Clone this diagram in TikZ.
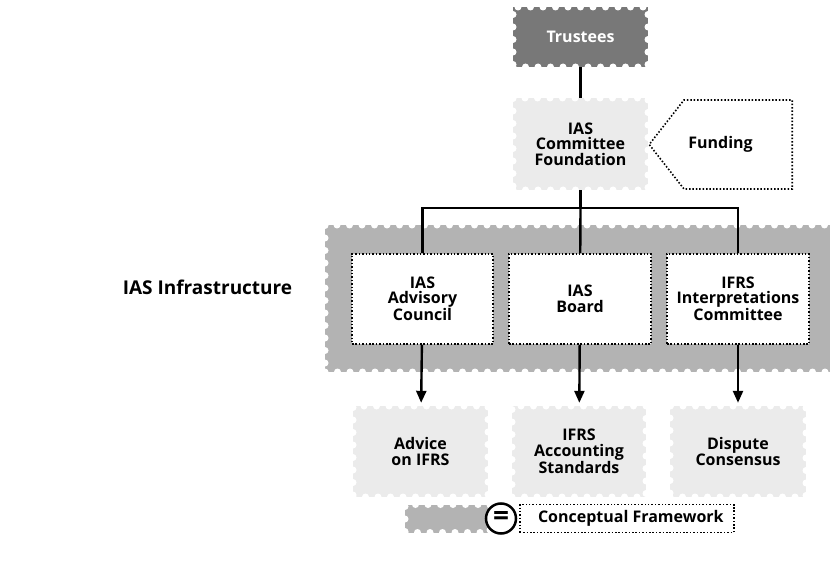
\documentclass[tikz,border=0pt]{standalone}
\usepackage{fontspec}
\setmainfont{Open Sans}
\usepackage{tikz}
\usetikzlibrary{positioning,calc}
\usetikzlibrary{arrows.meta,shapes.symbols}
\definecolor{StampDark}{RGB}{120,120,120}
\definecolor{StampMid}{RGB}{179,179,179}
\definecolor{StampLight}{RGB}{235,235,235}
\tikzset{
  perf/.style={postaction={draw=white,line width=7pt,line cap=round,dash pattern=on 0pt off 12.5pt}},
  stamp/.style={rectangle,fill=#1,perf,inner sep=0pt,align=center,
    font=\fontsize{16}{15.5}\selectfont\bfseries},
  panel/.style={rectangle,draw=black,fill=white,line width=1.6pt,dash pattern=on 1.5pt off 1.9pt,
    minimum height=90,inner sep=0pt,align=center,font=\fontsize{16}{15.5}\selectfont\bfseries},
}
\tikzset{link/.style={draw=black,line width=2.4pt}, arrow/.style={link,-{Triangle[length=12pt,width=10pt]},shorten >=3pt},
  title/.style={font=\fontsize{19}{19}\selectfont\bfseries}}

\begin{document}
\begin{tikzpicture}[x=1pt,y=-1pt]
\useasboundingbox (0,0) rectangle (830,564);
\node[title] (infra label) at (207.5,287) {IAS Infrastructure};
\node[stamp=StampMid,minimum width=520,minimum height=147] (infra) at (585,298.5) {};
\node[stamp=StampDark,text=white,minimum width=135,minimum height=60] (trustees) at (580.5,37) {Trustees};
\node[stamp=StampLight,minimum width=135,minimum height=92] (foundation) at (580.5,144) {IAS\\Committee\\Foundation};
\node[panel,signal,signal to=west,signal pointer angle=104,minimum width=143,minimum height=89,anchor=east] (funding) at (793,144.5) {Funding\hspace*{35pt}};
\node[panel,minimum width=141] (council) at (422.5,299) {IAS\\Advisory\\Council};
\node[panel,minimum width=142] (board) at (580,299) {IAS\\Board};
\node[panel,minimum width=142] (interp) at (738,299) {IFRS\\Interpretations\\Committee};
\node[stamp=StampLight,minimum width=135,minimum height=91] (advice) at (420.5,451.5) {Advice\\on IFRS};
\node[stamp=StampLight,minimum width=134,minimum height=91] (standards) at (579,451.5) {IFRS\\Accounting\\Standards};
\node[stamp=StampLight,minimum width=136,minimum height=91] (dispute) at (738,451.5) {Dispute\\Consensus};
% legend
\node[stamp=StampMid,minimum width=85,minimum height=28] (legend bar) at (447.5,518.5) {};
\node[panel,minimum width=214,minimum height=28,anchor=west] (legend text) at (519,518.5) {\hspace*{8pt}Conceptual Framework};
\node[circle,draw=black,fill=white,line width=2.5pt,minimum size=30,inner sep=0pt,
  font=\fontsize{28}{28}\selectfont\bfseries] (legend sign) at (501,518.5) {\raisebox{1pt}{=}};
\coordinate (split) at (580.5,208);
\draw[link] (trustees) -- (foundation);
\draw[link] (foundation) -- (split);
\draw[link] (split) -| (council);
\draw[link] (split) -| (interp);
\draw[link] (split) -- (board);
\draw[arrow] (council) -- (advice);
\draw[arrow] (board) -- (standards);
\draw[arrow] (interp) -- (dispute);
\end{tikzpicture}
\end{document}
